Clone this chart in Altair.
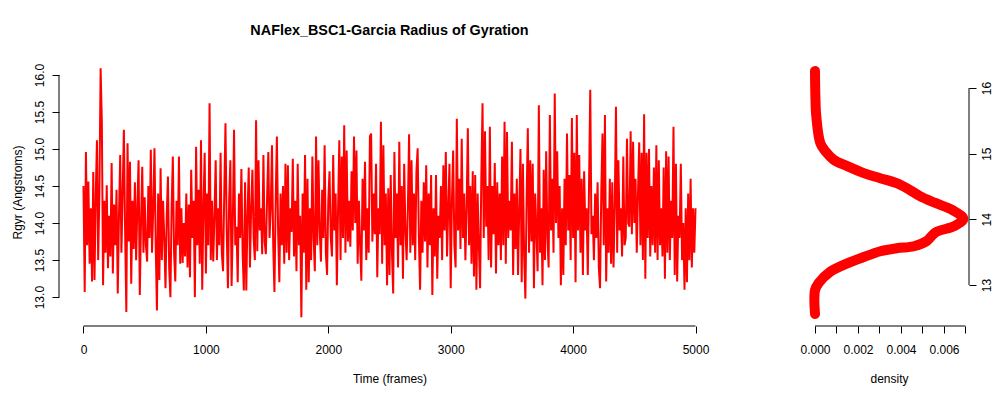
import altair as alt
import pandas as pd

# ---------------- data ----------------
frame_step = 10  # one value read every 10 frames (0 .. 5000)

rgyr = [
    14.50, 13.07, 14.96, 13.70, 14.56, 13.45, 14.20, 13.21, 14.69, 13.23,
    14.35, 15.12, 13.50, 14.40, 16.09, 15.37, 13.16, 14.30, 13.60, 14.51,
    13.39, 14.10, 13.55, 14.81, 13.32, 14.25, 13.70, 14.45, 13.05, 14.10,
    14.92, 13.60, 14.40, 15.26, 13.90, 12.80, 15.08, 13.75, 14.83, 13.18,
    14.30, 13.65, 14.55, 13.50, 14.20, 14.85, 13.03, 14.00, 14.76, 13.60,
    14.35, 13.70, 13.48, 14.50, 13.80, 14.99, 13.60, 14.20, 15.01, 13.70,
    12.82, 14.40, 13.23, 14.74, 13.50, 14.30, 13.80, 13.12, 14.10, 14.63,
    13.40, 13.00, 14.20, 14.90, 13.60, 13.21, 14.30, 13.70, 14.90, 13.45,
    14.20, 13.46, 14.00,
    13.55, 14.40, 13.40, 14.25, 13.27, 14.72, 13.80, 14.30, 13.00, 15.03,
    13.70, 14.45, 13.45, 15.12, 13.10, 14.20, 14.95, 13.32, 14.40, 13.70,
    15.62, 13.50, 14.30, 13.48, 14.10, 14.85, 13.50, 14.20, 13.70, 14.95,
    13.60, 13.35, 14.40, 15.35, 13.90, 13.12, 14.30, 14.85, 13.15, 14.00,
    15.26, 13.70, 13.95, 13.20, 14.40, 13.80, 14.73, 13.60, 13.09, 14.55,
    13.09, 14.10, 14.75, 13.40, 14.20, 14.72, 13.80, 13.50, 15.39, 13.62,
    14.85, 13.90, 14.20, 13.58, 14.92, 13.75, 13.58, 14.35, 14.96, 13.80,
    14.20, 15.05, 13.70, 13.07, 14.30, 15.17, 13.90, 13.20, 14.40, 13.70,
    14.50, 13.45, 14.80,
    13.60, 14.78, 13.50, 14.20, 13.88, 14.87, 13.55, 14.30, 13.35, 14.80,
    13.70, 14.10, 12.73, 14.40, 13.60, 14.92, 13.10, 14.60, 13.20, 14.20,
    13.50, 14.90, 13.80, 13.35, 15.17, 13.70, 14.85, 13.90, 13.48, 14.45,
    13.80, 15.05, 13.60, 13.30, 14.30, 14.70, 13.80, 13.55, 14.92, 13.90,
    14.40, 13.16, 14.20, 15.12, 13.50, 14.90, 13.80, 15.32, 13.60, 14.98,
    13.75, 14.30, 13.68, 14.70, 13.90, 15.17, 14.00, 14.98, 13.45, 14.30,
    13.70, 13.22, 14.60, 13.90, 14.83, 13.50, 14.20, 13.60, 15.17, 15.21,
    13.75, 14.40, 13.85, 14.80, 13.27, 14.20, 13.85, 15.37, 13.45, 15.05,
    13.70, 14.40, 13.16, 14.47,
    13.30, 14.65, 13.60, 13.05, 14.96, 13.80, 14.40, 13.40, 15.10, 13.70,
    14.50, 13.25, 14.80, 13.90, 13.50, 14.20, 15.20, 13.60, 14.85, 13.70,
    14.40, 13.50, 14.70, 15.01, 13.80, 13.10, 14.30, 13.60, 14.55, 13.75,
    14.78, 13.40, 14.40, 13.70, 14.65, 13.03, 14.20, 13.55, 14.65, 13.25,
    14.10, 13.80, 14.50, 13.50, 14.78, 13.90, 14.96, 13.55, 14.20, 14.80,
    13.12, 14.30, 14.98, 13.70, 13.40, 15.41, 13.90, 14.60, 13.65, 15.14,
    13.80, 14.40, 13.50, 14.20, 15.28, 13.70, 14.50, 13.45, 14.70, 13.28,
    14.65, 13.10, 14.40, 13.70, 13.12, 14.60, 15.62, 13.80, 15.24, 13.95,
    14.50, 13.50, 15.30,
    13.40, 14.50, 13.85, 14.81, 13.32, 14.55, 13.70, 14.40, 13.50, 14.90,
    13.70, 15.37, 13.45, 15.23, 13.80, 14.30, 13.90, 15.10, 13.30, 14.40,
    13.65, 14.60, 13.30, 14.20, 15.00, 13.20, 14.80, 13.55, 12.98, 14.30,
    15.28, 13.60, 14.85, 13.75, 14.80, 13.12, 14.40, 13.90, 13.35, 15.59,
    13.60, 14.20, 13.16, 14.72, 13.50, 14.97, 13.80, 13.40, 15.46, 13.90,
    14.60, 13.60, 15.75, 14.00, 14.97, 13.80, 14.50, 13.16, 14.20, 13.30,
    14.60, 13.70, 15.21, 13.90, 14.65, 13.50, 15.42, 13.80, 14.95, 13.20,
    15.46, 13.90, 14.92, 13.60, 14.60, 13.30, 14.70, 13.90, 14.20, 13.30,
    14.50, 15.80, 13.85,
    14.10, 13.50, 14.40, 13.80, 14.55, 13.40, 13.12, 14.40, 15.21, 13.70,
    15.46, 13.21, 14.20, 13.60, 14.60, 13.45, 14.55, 13.40, 14.20, 15.57,
    13.60, 14.85, 13.90, 14.20, 13.55, 14.90, 13.70, 13.80, 15.14, 14.00,
    13.95, 15.24, 13.85, 15.10, 14.00, 14.60, 13.60, 14.40, 15.09, 13.70,
    14.95, 13.50, 15.47, 13.25, 14.95, 13.80, 15.00, 13.55, 14.50, 13.70,
    14.75, 13.60, 15.05, 13.50, 14.85, 13.70, 14.20, 13.55, 14.75, 13.25,
    14.97, 13.60, 14.90, 13.50, 14.30, 13.80, 15.30, 13.30, 14.80, 13.21,
    14.10, 13.80, 14.80, 13.50, 14.00, 13.10, 14.20, 13.20, 14.40, 13.50,
    14.60, 13.40, 14.20, 13.60, 14.20,
]
frames = [i * frame_step for i in range(len(rgyr))]

# density curve (Rgyr value, density)
dens_rgyr = [12.56, 12.92, 13.03, 13.20, 13.33, 13.43, 13.51, 13.56, 13.59,
             13.67, 13.80, 13.90, 14.01, 14.14, 14.25, 14.35, 14.45, 14.55,
             14.63, 14.70, 14.81, 14.91, 15.03, 15.16, 15.57, 15.85, 16.26]
dens_val = [0.0, 0.0, 0.00017, 0.0007, 0.0015, 0.0023, 0.0030, 0.0038, 0.0046,
            0.0052, 0.0056, 0.0065, 0.0069, 0.0064, 0.0056, 0.0049, 0.0044, 0.0038,
            0.0030, 0.0023, 0.0015, 0.00086, 0.0005, 0.00025, 0.00006, 0.00002, 0.0]

time_ticks = [0, 1000, 2000, 3000, 4000, 5000]
rgyr_ticks = [13.0, 13.5, 14.0, 14.5, 15.0, 15.5, 16.0]
dens_ticks = [0.0, 0.001, 0.002, 0.003, 0.004, 0.005, 0.006, 0.007]
dens_rgyr_ticks = [13, 14, 15, 16]

FONT = "Liberation Sans"
RED = "#ff0000"

ts = pd.DataFrame({"frame": frames, "rgyr": rgyr})
dens = pd.DataFrame({"rg": dens_rgyr, "density": dens_val})
one = pd.DataFrame({"k": [0]})

# one view; the two panels get their own x/y scales with separate pixel ranges
W, H = 910, 268
MAIN_W = 661          # main panel occupies [0, 661]
SIDE_X0 = 750         # density panel occupies [750, 910]

# ---------------- main time-series panel ----------------
xs = alt.Scale(domain=[-200, 5200], range=[0, MAIN_W], nice=False, zero=False)
ys = alt.Scale(domain=[12.61, 16.23], nice=False, zero=False)

line = alt.Chart(ts).mark_line(color=RED, strokeWidth=2, strokeJoin="bevel").encode(
    x=alt.X("frame:Q", scale=xs,
            axis=alt.Axis(values=time_ticks, format="d", title="Time (frames)",
                          orient="bottom", domain=False, grid=False, tickSize=7,
                          labelPadding=11, titlePadding=18, labelFlush=False,
                          titleX=MAIN_W / 2)),
    y=alt.Y("rgyr:Q", scale=ys,
            axis=alt.Axis(values=rgyr_ticks, format=".1f", title="Rgyr (Angstroms)",
                          orient="left", domain=False, grid=False, tickSize=7,
                          labelPadding=6, labelAngle=270, labelAlign="center",
                          labelBaseline="bottom", titlePadding=9, labelFlush=False)),
)
xaxis_line = alt.Chart(one).mark_rule(color="black", strokeWidth=1).encode(
    x=alt.datum(time_ticks[0]), x2=alt.datum(time_ticks[-1]), y=alt.value(H))
yaxis_line = alt.Chart(one).mark_rule(color="black", strokeWidth=1).encode(
    y=alt.datum(rgyr_ticks[0]), y2=alt.datum(rgyr_ticks[-1]), x=alt.value(0))

main = alt.layer(line, xaxis_line, yaxis_line)

# ---------------- density panel ----------------
dxs = alt.Scale(domain=[-0.000279, 0.007163], range=[SIDE_X0, W], nice=False, zero=False)
dys = alt.Scale(domain=[12.376, 16.457], nice=False, zero=False)

dline = alt.Chart(dens).mark_line(color=RED, strokeWidth=10, strokeCap="round",
                                  strokeJoin="round", interpolate="catmull-rom").encode(
    x=alt.X("density:Q", scale=dxs,
            axis=alt.Axis(values=dens_ticks, title="density", orient="bottom",
                          domain=False, grid=False, tickSize=7, labelPadding=11,
                          titlePadding=18, labelFlush=False, labelOverlap=False,
                          titleX=(SIDE_X0 + W) / 2,
                          labelExpr="round(datum.value*1000) % 2 == 0 ? format(datum.value, '.3f') : ''")),
    y=alt.Y("rg:Q", scale=dys,
            axis=alt.Axis(values=dens_rgyr_ticks, format="d", title=None, orient="right",
                          domain=False, grid=False, tickSize=7, labelPadding=5,
                          labelAngle=270, labelAlign="center", labelBaseline="top",
                          labelFlush=False)),
    order=alt.Order("rg:Q"),
)
dx_line = alt.Chart(one).mark_rule(color="black", strokeWidth=1).encode(
    x=alt.datum(dens_ticks[0]), x2=alt.datum(dens_ticks[-1]), y=alt.value(H))
dy_line = alt.Chart(one).mark_rule(color="black", strokeWidth=1).encode(
    y=alt.datum(dens_rgyr_ticks[0]), y2=alt.datum(dens_rgyr_ticks[-1]), x=alt.value(W))

side = alt.layer(dline, dx_line, dy_line)

chart = alt.layer(main, side).resolve_scale(
    x="independent", y="independent"
).resolve_axis(x="independent", y="independent").properties(
    width=W, height=H,
    title=alt.Title("NAFlex_BSC1-Garcia Radius of Gyration", fontSize=14.4,
                    fontWeight="bold", font=FONT, color="black", anchor="middle",
                    offset=20, dx=MAIN_W / 2 - W / 2),
    autosize=alt.AutoSizeParams(type="none"),
    padding={"left": 51, "top": 50, "right": 23, "bottom": 64},
    background="white",
).configure_view(stroke="transparent").configure_axis(
    labelFont=FONT, titleFont=FONT, labelFontSize=12, titleFontSize=12,
    labelColor="black", titleColor="black", tickColor="black", tickWidth=1,
    titleFontWeight="normal",
)

chart.save("out.html", embed_options={"renderer": "svg", "actions": False})
